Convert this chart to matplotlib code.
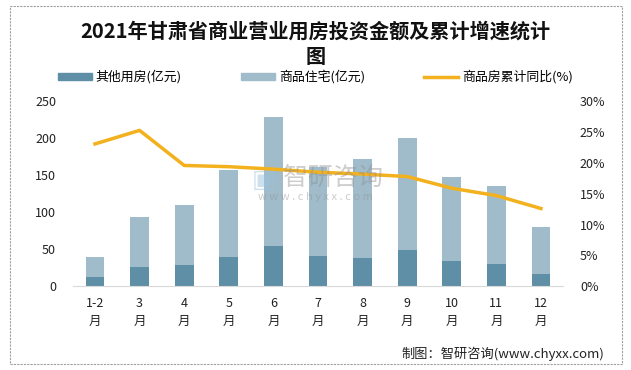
import matplotlib
matplotlib.use('Agg')
import matplotlib.pyplot as plt
import numpy as np
from matplotlib.patches import Rectangle
from matplotlib.lines import Line2D

plt.rcParams['font.family'] = ['Noto Sans CJK SC', 'DejaVu Sans']

months = ['1-2\n月', '3\n月', '4\n月', '5\n月', '6\n月', '7\n月', '8\n月', '9\n月', '10\n月', '11\n月', '12\n月']
# totals, split into 其他用房 + 商品住宅
other = [12.2, 25.8, 28.5, 39.3, 54.2, 40.7, 38.0, 48.8, 33.9, 29.8, 16.3]
total = [39.3, 93.6, 109.9, 157.3, 229.2, 161.0, 172.2, 200.7, 147.8, 135.6, 80.0]
resid = [t - o for t, o in zip(total, other)]
growth = [23.1, 25.3, 19.6, 19.4, 19.0, 18.5, 18.2, 17.8, 15.9, 14.7, 12.6]

c_other = '#5e8fa7'
c_resid = '#a0bccb'
c_line = '#f2b11d'

fig = plt.figure(figsize=(6.31, 3.70), dpi=100)
ax = fig.add_axes([0.1152, 0.227, 0.7775, 0.4987])
x = np.arange(len(months))
ax.bar(x, other, width=0.42, color=c_other, zorder=2)
ax.bar(x, resid, width=0.42, bottom=other, color=c_resid, zorder=2)
ax.set_xlim(-0.5, len(months) - 0.5)
ax.set_ylim(0, 250)
ax.set_yticks(np.arange(0, 251, 50))
ax.set_xticks(x)
ax.set_xticklabels(months, fontsize=9, linespacing=1.5)
ax.tick_params(axis='both', length=0, labelsize=9, colors='#222222')
ax.tick_params(axis='x', pad=8)
ax.tick_params(axis='y', pad=12)
for s in ['top', 'right', 'left']:
    ax.spines[s].set_visible(False)
ax.spines['bottom'].set_color('#d9d9d9')

ax2 = ax.twinx()
ax2.plot(x, growth, color=c_line, lw=2.5, zorder=3)
ax2.set_ylim(0, 30)
ax2.set_yticks(np.arange(0, 31, 5))
ax2.set_yticklabels([f'{v}%' for v in range(0, 31, 5)])
ax2.tick_params(axis='y', length=0, labelsize=9, colors='#222222', pad=12)
for s in ['top', 'right', 'left', 'bottom']:
    ax2.spines[s].set_visible(False)

# watermark
fig.text(0.418, 0.515, '▣', fontsize=18, color='#9cc3e0', alpha=0.5, ha='center', va='center',
         family='DejaVu Sans')
fig.text(0.527, 0.519, '智研咨询', fontsize=18, color='#909090', alpha=0.45, ha='center', va='center')
fig.text(0.50, 0.467, 'w w w . c h y x x . c o m', fontsize=8, color='#909090', alpha=0.45, ha='center', va='center')

fig.text(0.5, 0.917, '2021年甘肃省商业营业用房投资金额及累计增速统计', fontsize=14.5,
         fontweight='bold', ha='center', va='center', color='#111111')
fig.text(0.5, 0.847, '图', fontsize=14.5, fontweight='bold', ha='center', va='center', color='#111111')

handles = [Rectangle((0, 0), 1, 1, color=c_other),
           Rectangle((0, 0), 1, 1, color=c_resid),
           Line2D([0], [0], color=c_line, lw=2.5)]
labels = ['其他用房(亿元)', '商品住宅(亿元)', '商品房累计同比(%)']
fig.legend(handles, labels, loc='center', bbox_to_anchor=(0.5, 0.792), ncol=3, frameon=False,
           fontsize=9.3, columnspacing=4.6, handlelength=2.6, handleheight=0.5, handletextpad=0.3)

fig.text(0.958, 0.045, '制图：智研咨询(www.chyxx.com)', fontsize=9.5, ha='right', va='center', color='#222222')

fig.patches.append(Rectangle((0.016, 0.016), 0.969, 0.967, transform=fig.transFigure,
                             fill=False, edgecolor='#a0a0a0', lw=0.8, ls=(0, (2, 1))))

fig.savefig('out.png', dpi=100)
